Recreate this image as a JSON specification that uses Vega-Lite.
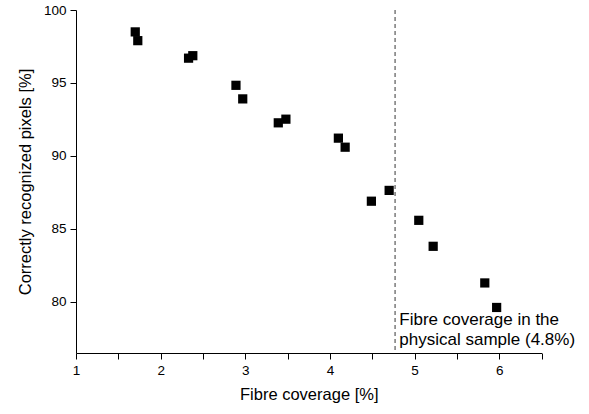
{
  "$schema": "https://vega.github.io/schema/vega-lite/v6.json",
  "width": 465.5,
  "height": 343,
  "autosize": "none",
  "padding": {"left": 76, "top": 10, "right": 47.5, "bottom": 61},
  "config": {
    "view": {"stroke": null},
    "font": "Liberation Sans",
    "axis": {"grid": false, "zindex": 1, "domainColor": "#000", "tickColor": "#000", "labelColor": "#000", "titleColor": "#000", "labelFont": "Liberation Sans", "titleFont": "Liberation Sans", "titleFontWeight": "normal", "labelFontSize": 13.5, "titleFontSize": 16.5, "domainWidth": 1, "tickWidth": 1, "labelOverlap": false, "tickSize": 6}
  },
  "layer": [
    {
      "data": {"values": [
        {"coverage": 1.70, "correct": 98.50},
        {"coverage": 1.73, "correct": 97.90},
        {"coverage": 2.33, "correct": 96.70},
        {"coverage": 2.38, "correct": 96.87},
        {"coverage": 2.89, "correct": 94.84},
        {"coverage": 2.97, "correct": 93.91},
        {"coverage": 3.39, "correct": 92.27},
        {"coverage": 3.48, "correct": 92.52},
        {"coverage": 4.10, "correct": 91.22},
        {"coverage": 4.18, "correct": 90.60},
        {"coverage": 4.70, "correct": 87.64},
        {"coverage": 4.49, "correct": 86.90},
        {"coverage": 5.05, "correct": 85.59},
        {"coverage": 5.22, "correct": 83.81},
        {"coverage": 5.83, "correct": 81.30},
        {"coverage": 5.97, "correct": 79.62}
      ]},
      "mark": {"type": "point", "shape": "square", "filled": true, "color": "#000", "opacity": 1, "size": 85},
      "encoding": {
        "x": {"field": "coverage", "type": "quantitative", "title": "Fibre coverage [%]",
          "scale": {"domain": [1, 6.5], "nice": false, "zero": false},
          "axis": {"values": [1, 1.5, 2, 2.5, 3, 3.5, 4, 4.5, 5, 5.5, 6, 6.5], "labelExpr": "datum.value % 1 === 0 ? format(datum.value, 'd') : ''", "labelPadding": 4, "titlePadding": 10, "labelFlush": false}},
        "y": {"field": "correct", "type": "quantitative", "title": "Correctly recognized pixels [%]",
          "scale": {"domain": [76.5, 100], "nice": false, "zero": false},
          "axis": {"values": [80, 85, 90, 95, 100], "format": "d", "labelPadding": 4, "titlePadding": 10, "labelFlush": false}}
      }
    },
    {
      "data": {"values": [{"coverage": 4.77}]},
      "mark": {"type": "rule", "color": "#666", "strokeDash": [4, 3], "strokeWidth": 1.3},
      "encoding": {"x": {"field": "coverage", "type": "quantitative"}}
    },
    {
      "data": {"values": [{"coverage": 4.82, "correct": 78.75, "label": ["Fibre coverage in the", "physical sample (4.8%)"]}]},
      "mark": {"type": "text", "align": "left", "baseline": "middle", "fontSize": 17, "lineHeight": 20, "color": "#000", "font": "Liberation Sans"},
      "encoding": {
        "x": {"field": "coverage", "type": "quantitative"},
        "y": {"field": "correct", "type": "quantitative"},
        "text": {"field": "label"}
      }
    }
  ]
}
